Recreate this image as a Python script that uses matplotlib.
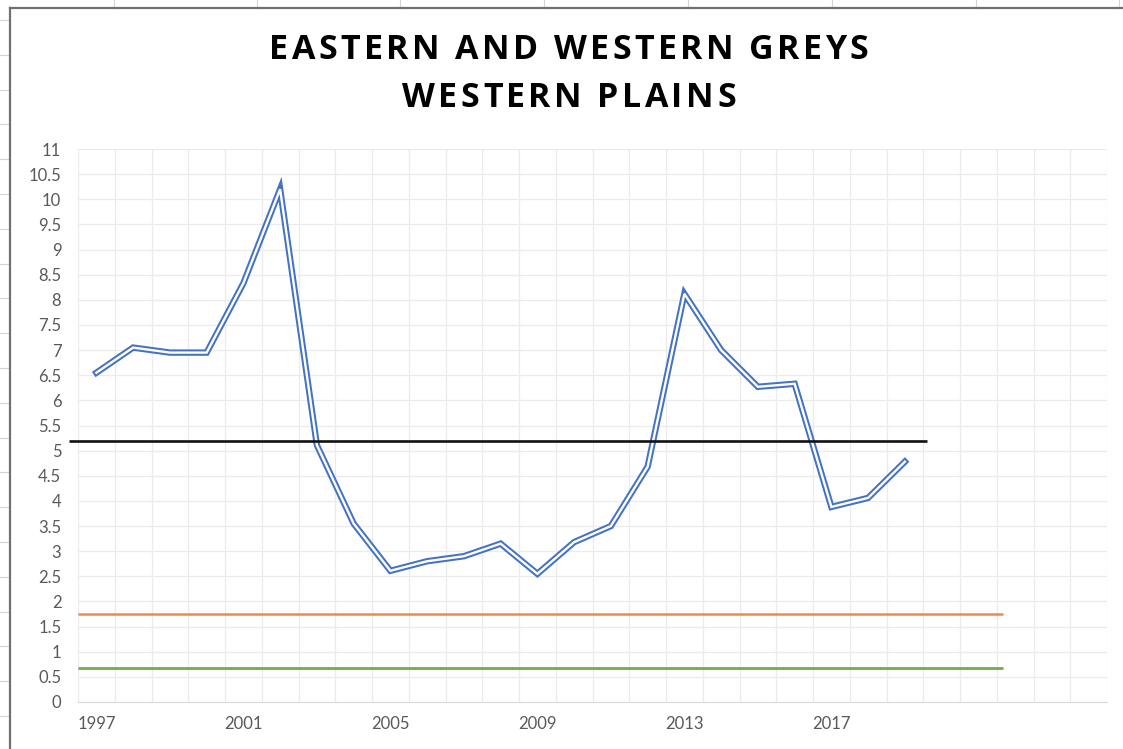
import matplotlib
matplotlib.use("Agg")
import matplotlib.pyplot as plt
from matplotlib.font_manager import FontProperties
import numpy as np

# yearly values
years = list(range(1997, 2020))
density = [6.55, 7.05, 6.95, 6.95, 8.33, 10.2, 5.11, 3.55, 2.61, 2.8, 2.9, 3.15,
           2.55, 3.18, 3.5, 4.68, 8.12, 7.0, 6.27, 6.33, 3.88, 4.06, 4.78]

# reference levels and the span of years they are drawn over
ref_levels = [5.19, 1.75, 0.67]
ref_start = [1996.26, 1996.5, 1996.5]
ref_end = [2019.6, 2021.68, 2021.68]
ref_colors = ["#111111", "#F08A4B", "#70AD47"]
ref_widths = [1.9, 1.8, 2.0]

label_years = [1997, 2001, 2005, 2009, 2013, 2017]
title_lines = ["EASTERN AND WESTERN GREYS", "WESTERN PLAINS"]

W, H = 1123, 749
fig = plt.figure(figsize=(W / 100, H / 100), dpi=100)

# worksheet behind the chart
bg = fig.add_axes([0, 0, 1, 1])
bg.set_xlim(0, W)
bg.set_ylim(H, 0)
bg.axis("off")
for x in [114, 257, 400, 544, 688, 832, 976, 1119]:
    bg.plot([x, x], [0, 8], color="#d4d4d4", lw=0.8)
for y in np.arange(20, H, 34.8):
    bg.plot([0, 9], [y, y], color="#d4d4d4", lw=0.8)
bg.plot([10, 10], [8, H], color="#707070", lw=1.6)
bg.plot([10, W], [8, 8], color="#707070", lw=1.6)

ax = fig.add_axes([78 / W, 1 - 702 / H, (1107 - 78) / W, (702 - 149) / H])
ax.set_facecolor("none")
ax.set_xlim(1996.5, 2024.5)
ax.set_ylim(0, 11)

ax.set_yticks(np.arange(0, 11.01, 0.5))
ax.set_yticklabels([f"{v:g}" for v in np.arange(0, 11.01, 0.5)])
ax.set_xticks(label_years)
ax.set_xticklabels([str(y) for y in label_years])
ax.set_xticks(np.arange(1996.5, 2024.6, 1), minor=True)
ax.tick_params(axis="both", which="both", length=0, labelsize=12, labelcolor="#595959")
ax.tick_params(axis="y", pad=12)
ax.tick_params(axis="x", pad=10)
for lab in ax.get_xticklabels() + ax.get_yticklabels():
    lab.set_fontfamily("Lato")

ax.grid(True, axis="y", color="#ebebeb", lw=0.9)
ax.grid(True, axis="x", which="minor", color="#ebebeb", lw=0.9)
for s in ["top", "right", "left"]:
    ax.spines[s].set_visible(False)
ax.spines["bottom"].set_color("#d9d9d9")
ax.set_axisbelow(True)

# double-stroke series line
ax.plot(years, density, color="#4472C4", lw=4.6, solid_joinstyle="miter", zorder=3)
ax.plot(years, density, color="white", lw=1.7, solid_joinstyle="miter", zorder=4)

for lvl, x0, x1, c, w in zip(ref_levels, ref_start, ref_end, ref_colors, ref_widths):
    ax.plot([x0, x1], [lvl, lvl], color=c, lw=w, solid_capstyle="butt",
            clip_on=False, zorder=5)

# letter-spaced title, placed glyph by glyph
prop = FontProperties(family="Open Sans", weight="bold", size=24.5)
renderer = fig.canvas.get_renderer()
tracking = 3.4
centre_x = 569
for line, cy in zip(title_lines, [50, 98]):
    def width(s):
        w, _, _ = renderer.get_text_width_height_descent(s, prop, ismath=False)
        return w
    total = width(line) + tracking * (len(line) - 1)
    x0 = centre_x - total / 2
    for i, ch in enumerate(line):
        if ch == " ":
            continue
        left = x0 + width(line[:i + 1]) - width(ch) + tracking * i
        fig.text(left / W, 1 - cy / H, ch, ha="left", va="center",
                 fontproperties=prop, color="black")

fig.savefig("out.png", dpi=100)
